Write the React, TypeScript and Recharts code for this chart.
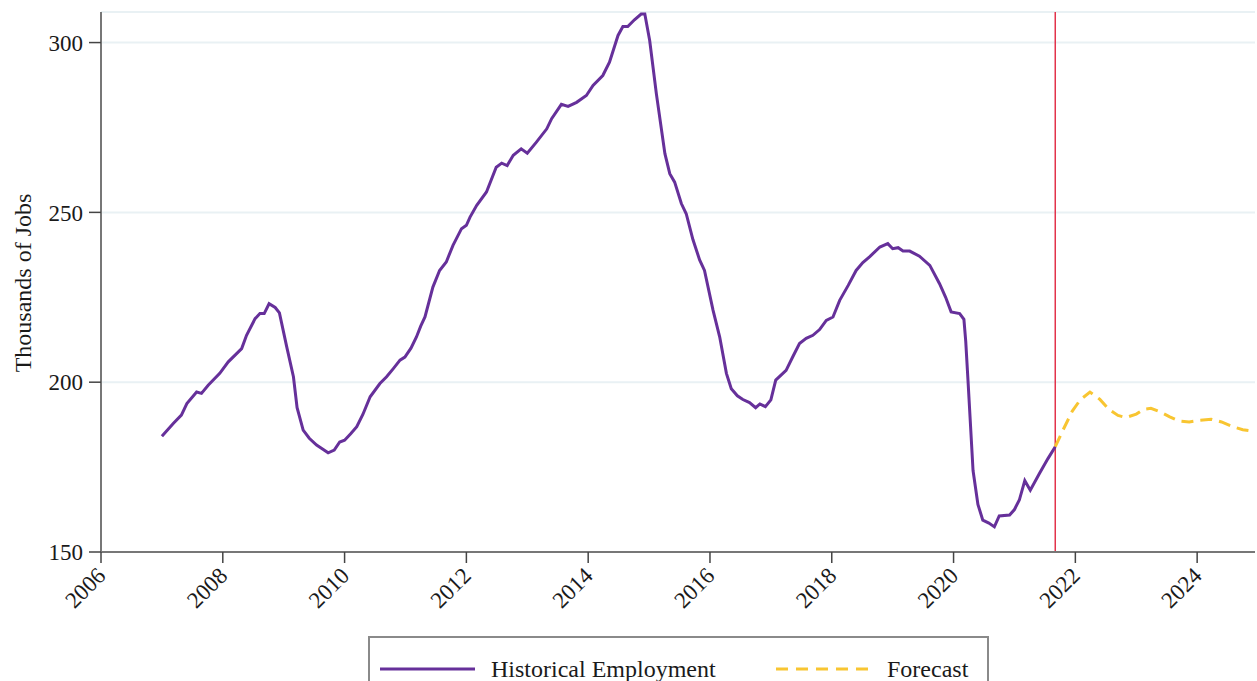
import { LineChart, Line, XAxis, YAxis, CartesianGrid, ReferenceLine, Legend } from 'recharts'

// monthly-ish readings, thousands of jobs
const histYears = [
  2007.0, 2007.19, 2007.32, 2007.41, 2007.57, 2007.65, 2007.76, 2007.95, 2008.09, 2008.31,
  2008.39, 2008.53, 2008.61, 2008.68, 2008.76, 2008.86, 2008.93, 2009.05, 2009.16, 2009.22,
  2009.32, 2009.42, 2009.54, 2009.65, 2009.73, 2009.83, 2009.92, 2010.0, 2010.1, 2010.2,
  2010.3, 2010.42, 2010.58, 2010.69, 2010.8, 2010.91, 2010.99, 2011.09, 2011.18, 2011.25,
  2011.32, 2011.45, 2011.56, 2011.67, 2011.78, 2011.92, 2012.0, 2012.06, 2012.17, 2012.33,
  2012.49, 2012.58, 2012.67, 2012.77, 2012.9, 2013.0, 2013.15, 2013.32, 2013.4, 2013.56,
  2013.67, 2013.81, 2013.97, 2014.08, 2014.24, 2014.35, 2014.49, 2014.57, 2014.65, 2014.76,
  2014.87, 2014.93, 2015.01, 2015.12, 2015.26, 2015.34, 2015.42, 2015.53, 2015.61, 2015.72,
  2015.83, 2015.91, 2016.05, 2016.16, 2016.27, 2016.35, 2016.45, 2016.54, 2016.65, 2016.75,
  2016.82, 2016.91, 2017.0, 2017.08, 2017.25, 2017.36, 2017.47, 2017.58, 2017.69, 2017.8,
  2017.91, 2018.02, 2018.13, 2018.27, 2018.4, 2018.51, 2018.62, 2018.79, 2018.92, 2019.0,
  2019.09, 2019.17, 2019.28, 2019.44, 2019.61, 2019.77, 2019.87, 2019.96, 2020.1, 2020.17,
  2020.2, 2020.24, 2020.32, 2020.4, 2020.48, 2020.58, 2020.67, 2020.75, 2020.92, 2021.0,
  2021.08, 2021.17, 2021.26, 2021.41, 2021.55, 2021.67,
]
const histJobs = [
  184.1, 187.9, 190.3, 193.7, 197.1, 196.7, 199.1, 202.6, 206.0, 209.9,
  213.8, 218.7, 220.2, 220.2, 223.1, 222.0, 220.4, 210.4, 201.6, 192.5,
  185.9, 183.5, 181.5, 180.2, 179.2, 180.0, 182.4, 182.9, 184.8, 186.9,
  190.5, 195.7, 199.6, 201.6, 204.0, 206.5, 207.4, 210.0, 213.3, 216.5,
  219.2, 228.0, 232.9, 235.4, 240.3, 245.2, 246.2, 248.6, 252.1, 256.0,
  263.3, 264.5, 263.8, 266.8, 268.7, 267.4, 270.7, 274.6, 277.6, 281.8,
  281.2, 282.4, 284.4, 287.4, 290.3, 294.2, 302.1, 304.7, 304.7, 306.7,
  308.4, 308.4, 300.6, 284.9, 267.3, 261.4, 258.9, 252.6, 249.6, 242.0,
  236.0, 232.9, 221.2, 213.3, 202.6, 198.1, 196.0, 194.9, 194.0, 192.5,
  193.6, 192.8, 194.8, 200.6, 203.5, 207.5, 211.4, 212.9, 213.8, 215.5,
  218.2, 219.2, 224.1, 228.5, 232.9, 235.2, 236.9, 239.8, 240.8, 239.3,
  239.6, 238.6, 238.6, 237.1, 234.4, 229.0, 225.0, 220.7, 220.2, 218.5,
  212.0, 199.6, 174.0, 164.0, 159.4, 158.5, 157.4, 160.6, 160.9, 162.5,
  165.3, 171.0, 168.2, 173.1, 177.5, 181.0,
]

const fcYears = [
  2021.67, 2021.8, 2021.95, 2022.08, 2022.24, 2022.4, 2022.55, 2022.7, 2022.83, 2023.0,
  2023.12, 2023.24, 2023.4, 2023.55, 2023.7, 2023.87, 2024.05, 2024.23, 2024.4, 2024.6,
  2024.75, 2024.9,
]
const fcJobs = [
  181.0, 186.0, 191.5, 194.8, 197.1, 195.0, 192.0, 190.2, 189.6, 190.6,
  192.0, 192.3, 191.2, 189.8, 188.6, 188.3, 188.8, 189.1, 188.3, 186.8,
  186.0, 185.6,
]

const forecastStart = 2021.67
const xTicks = [2006, 2008, 2010, 2012, 2014, 2016, 2018, 2020, 2022, 2024]
const yTicks = [150, 200, 250, 300]

const histData = histYears.map((t, i) => ({ t, jobs: histJobs[i] }))
const fcData = fcYears.map((t, i) => ({ t, jobs: fcJobs[i] }))

const FONT = 'Liberation Serif, Times New Roman, serif'
const PURPLE = '#66309a'
const YELLOW = '#f8c531'

function XTick({ x, y, payload }: any) {
  return (
    <g transform={`translate(${x + 6},${y + 12})`}>
      <text x={0} y={0} textAnchor="end" transform="rotate(-45)" fontFamily={FONT} fontSize={23} fill="#1a1a1a">
        {payload.value}
      </text>
    </g>
  )
}

function YTitle() {
  return (
    <text x={31} y={283} transform="rotate(-90, 31, 283)" textAnchor="middle" fontFamily={FONT} fontSize={24} fill="#1a1a1a">
      Thousands of Jobs
    </text>
  )
}

function LegendBox() {
  return (
    <div style={{ width: 621, height: 60, border: '2px solid #8a8a8a', boxSizing: 'border-box', background: '#fff' }}>
      <svg width={617} height={56}>
        <line x1={10} x2={105} y1={31} y2={31} stroke={PURPLE} strokeWidth={3} />
        <text x={121} y={31} dominantBaseline="central" fontFamily={FONT} fontSize={24} fill="#1a1a1a">Historical Employment</text>
        <line x1={406} x2={502} y1={31} y2={31} stroke={YELLOW} strokeWidth={3} strokeDasharray="12 8" />
        <text x={517} y={31} dominantBaseline="central" fontFamily={FONT} fontSize={24} fill="#1a1a1a">Forecast</text>
      </svg>
    </div>
  )
}

export default function App() {
  return (
    <div style={{ position: 'absolute', left: 0, top: 0, width: 1257, height: 681, overflow: 'hidden', background: '#fff' }}>
      <LineChart width={1257} height={681} margin={{ top: 12, right: 2, left: 0, bottom: 0 }}>
        <CartesianGrid vertical={false} stroke="#e9f1f4" strokeWidth={2} />
        <XAxis
          dataKey="t"
          type="number"
          domain={[2006, 2024.95]}
          ticks={xTicks}
          height={129}
          allowDataOverflow
          axisLine={{ stroke: '#777', strokeWidth: 2 }}
          tickLine={{ stroke: '#444', strokeWidth: 1.5 }}
          tickSize={11}
          tick={<XTick />}
          interval={0}
        />
        <YAxis
          type="number"
          domain={[150, 309]}
          ticks={yTicks}
          width={101}
          allowDataOverflow
          axisLine={{ stroke: '#777', strokeWidth: 2 }}
          tickLine={{ stroke: '#444', strokeWidth: 1.5 }}
          tickSize={12}
          tickMargin={6}
          tick={{ fontFamily: FONT, fontSize: 23, fill: '#1a1a1a' }}
          label={<YTitle />}
          interval={0}
        />
        <ReferenceLine x={forecastStart} stroke="#e2334b" strokeWidth={1.5} />
        <Line data={histData} dataKey="jobs" name="Historical Employment" stroke={PURPLE} strokeWidth={3} dot={false} type="linear" isAnimationActive={false} />
        <Line data={fcData} dataKey="jobs" name="Forecast" stroke={YELLOW} strokeWidth={3} strokeDasharray="12 7" dot={false} type="linear" isAnimationActive={false} />
        <Legend
          layout="horizontal"
          verticalAlign="middle"
          align="center"
          content={<LegendBox />}
          wrapperStyle={{ position: 'absolute', top: 636, left: 368, width: 621, height: 60 }}
        />
      </LineChart>
    </div>
  )
}
